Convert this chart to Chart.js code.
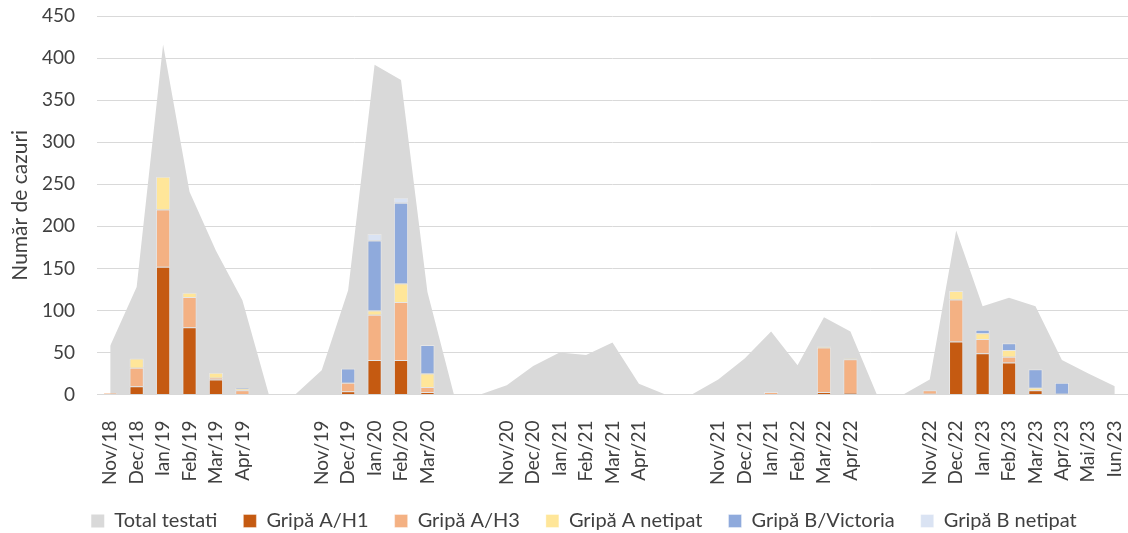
<!DOCTYPE html>
<html>
<head>
<meta charset="utf-8">
<script src="https://cdn.jsdelivr.net/npm/chart.js@4/dist/chart.umd.min.js"></script>
<style>
  html, body { margin: 0; padding: 0; background: #ffffff; }
  #wrap { width: 1128px; height: 533px; }
</style>
</head>
<body>
<div id="wrap"><canvas id="c"></canvas></div>
<script>
// Monthly categories of five flu seasons; empty labels keep the summer gaps.
const labels = [
  'Nov/18', 'Dec/18', 'Ian/19', 'Feb/19', 'Mar/19', 'Apr/19', '', '',
  'Nov/19', 'Dec/19', 'Ian/20', 'Feb/20', 'Mar/20', '', '',
  'Nov/20', 'Dec/20', 'Ian/21', 'Feb/21', 'Mar/21', 'Apr/21', '', '',
  'Nov/21', 'Dec/21', 'Ian/21', 'Feb/22', 'Mar/22', 'Apr/22', '', '',
  'Nov/22', 'Dec/22', 'Ian/23', 'Feb/23', 'Mar/23', 'Apr/23', 'Mai/23', 'Iun/23'
];

// Samples tested per month (grey area)
const totalTested = [
  58, 128, 416, 241, 171, 112, 0, 0,
  29, 124, 392, 374, 122, 0, 0,
  11, 34, 50, 47, 62, 13, 0, 0,
  18, 43, 75, 35, 92, 75, 0, 0,
  18, 195, 105, 115, 105, 41, 25, 10
];

// Confirmed cases by virus type (stacked bars)
const fluAH1 = [
  0, 10, 152, 80, 18, 0, null, null,
  0, 4, 41, 41, 3, null, null,
  0, 0, 0, 0, 0, 0, null, null,
  0, 0, 0, 0, 3, 2, null, null,
  1, 63, 49, 38, 5, 1, 0, 0
];
const fluAH3 = [
  2, 22, 68, 36, 2, 5, null, null,
  0, 10, 54, 69, 6, null, null,
  0, 0, 0, 0, 0, 0, null, null,
  0, 1, 3, 1, 53, 40, null, null,
  4, 50, 17, 7, 0, 0, 0, 0
];
const fluANotTyped = [
  0, 11, 39, 5, 6, 2, null, null,
  0, 0, 5, 22, 16, null, null,
  0, 0, 0, 0, 0, 0, null, null,
  0, 0, 0, 0, 1, 1, null, null,
  0, 10, 7, 8, 3, 0, 0, 0
];
const fluBVictoria = [
  0, 0, 0, 0, 0, 1, null, null,
  1, 17, 83, 96, 34, null, null,
  0, 0, 0, 0, 0, 0, null, null,
  0, 0, 0, 0, 0, 0, null, null,
  0, 0, 4, 8, 22, 13, 0, 0
];
const fluBNotTyped = [
  0, 0, 0, 0, 0, 0, null, null,
  0, 0, 8, 6, 0, null, null,
  0, 0, 0, 0, 0, 0, null, null,
  0, 0, 0, 0, 0, 0, null, null,
  0, 0, 0, 0, 0, 0, 0, 0
];

const yTicks = { min: 0, max: 450, step: 50 };

const FONT = 'Lato, "Open Sans", sans-serif';
const TEXT = '#404040';
const GRID = '#d9d9d9';

function barSet(label, data, color) {
  return {
    type: 'bar',
    label: label,
    data: data,
    backgroundColor: color,
    borderColor: 'rgba(255,255,255,0.35)',
    borderWidth: 1,
    stack: 'cases',
    order: 0,
    categoryPercentage: 1,
    barPercentage: 0.54
  };
}

new Chart(document.getElementById('c'), {
  type: 'bar',
  data: {
    labels: labels,
    datasets: [
      {
        type: 'line',
        label: 'Total testati',
        data: totalTested,
        fill: 'origin',
        backgroundColor: '#d9d9d9',
        borderColor: '#d9d9d9',
        borderWidth: 0,
        pointRadius: 0,
        tension: 0,
        stack: 'tested',
        order: 1
      },
      barSet('Gripă A/H1', fluAH1, '#c55a11'),
      barSet('Gripă A/H3', fluAH3, '#f4b183'),
      barSet('Gripă A netipat', fluANotTyped, '#ffe699'),
      barSet('Gripă B/Victoria', fluBVictoria, '#8faadc'),
      barSet('Gripă B netipat', fluBNotTyped, '#dae3f3')
    ]
  },
  options: {
    responsive: true,
    maintainAspectRatio: false,
    animation: false,
    layout: { padding: { top: 0, right: 0, left: 40, bottom: -8 } },
    scales: {
      x: {
        stacked: true,
        offset: true,
        grid: { display: false },
        border: { color: GRID, width: 1 },
        ticks: {
          autoSkip: false,
          maxRotation: 90,
          minRotation: 90,
          padding: 18,
          color: TEXT,
          font: { family: FONT, size: 19 }
        },
        afterFit(scale) {
          scale.paddingLeft = 0;
          scale.paddingRight = 0;
          scale.height -= 18;
        }
      },
      y: {
        stacked: true,
        min: yTicks.min,
        max: yTicks.max,
        border: { display: false },
        grid: { color: GRID, lineWidth: 1, drawTicks: false },
        ticks: {
          stepSize: yTicks.step,
          padding: 22,
          color: TEXT,
          font: { family: FONT, size: 19 }
        },
        title: {
          display: true,
          text: 'Număr de cazuri',
          color: TEXT,
          font: { family: FONT, size: 21 },
          padding: { top: -32, bottom: 0 }
        },
        afterFit(scale) {
          scale.width = 57;
          scale.paddingTop = 16;
        }
      }
    },
    plugins: {
      legend: {
        position: 'bottom',
        labels: {
          boxWidth: 13,
          boxHeight: 13,
          padding: 26,
          color: TEXT,
          font: { family: FONT, size: 20 },
          sort: (a, b) => a.datasetIndex - b.datasetIndex
        }
      },
      tooltip: { enabled: false }
    }
  }
});
</script>
</body>
</html>
